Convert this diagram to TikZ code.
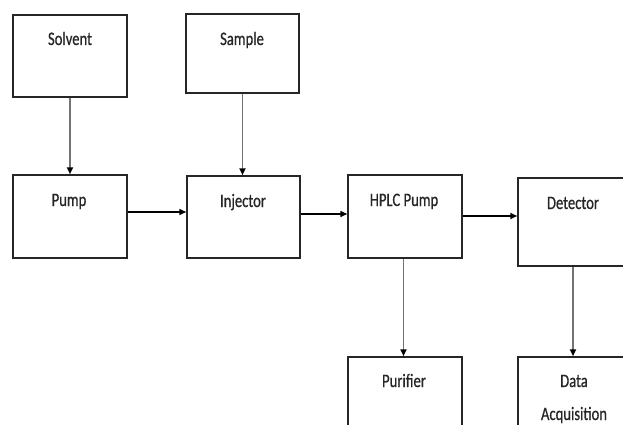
\documentclass[tikz,border=0pt]{standalone}
\usepackage{fontspec}
\setmainfont[FakeStretch=0.77,FakeBold=0.6]{Carlito}
\usetikzlibrary{arrows.meta}
\begin{document}
\begin{tikzpicture}[x=1pt,y=-1pt,
  box/.style={draw=black!85,line width=1.5pt,fill=white,rectangle,inner sep=0pt},
  txt/.style={font=\fontsize{19}{22}\selectfont,text=black!85,inner sep=0pt,anchor=base},
  harr/.style={draw=black,line width=1.5pt,-{Triangle[length=7pt,width=6pt]}},
  varr/.style={draw=black!55,line width=1.8pt,-{Triangle[length=7pt,width=6pt,color=black]}}]
\useasboundingbox (0,0) rectangle (623,425);
\clip (0,0) rectangle (623,425);
\fill[white] (0,0) rectangle (623,425);
% boxes
\node[box,minimum width=114pt,minimum height=82pt] (solvent) at (70,56) {};
\node[box,minimum width=113pt,minimum height=79pt] (sample) at (242.5,53.5) {};
\node[box,minimum width=114pt,minimum height=83pt] (pump) at (70,216.5) {};
\node[box,minimum width=113pt,minimum height=82pt] (injector) at (243.5,217) {};
\node[box,minimum width=114pt,minimum height=83pt] (hplc) at (405,216.5) {};
\node[box,minimum width=114pt,minimum height=88pt] (detector) at (575,222) {};
\node[box,minimum width=114pt,minimum height=83pt] (purifier) at (405,398.5) {};
\node[box,minimum width=114pt,minimum height=83pt] (data) at (575,398.5) {};
% labels
\node[txt] (tsolvent) at (70,45) {Solvent};
\node[txt] (tsample) at (242,45) {Sample};
\node[txt] (tpump) at (69,206) {Pump};
\node[txt] (tinjector) at (243,207) {Injector};
\node[txt] (thplc) at (404,206) {HPLC Pump};
\node[txt] (tdetector) at (573,209) {Detector};
\node[txt] (tpurifier) at (404,387) {Purifier};
\node[txt] (tdata) at (574,387) {Data};
\node[txt] (tacq) at (574,420) {Acquisition};
% connectors
\draw[varr] (solvent.south) -- (solvent.south |- pump.north);
\draw[varr] (sample.south) -- (sample.south |- injector.north);
\draw[harr] ([yshift=4.5pt]pump.east) -- ([yshift=4.5pt]pump.east -| injector.west);
\draw[harr] ([yshift=3pt]injector.east) -- ([yshift=3pt]injector.east -| hplc.west);
\draw[harr] ([yshift=0.5pt]hplc.east) -- ([yshift=0.5pt]hplc.east -| detector.west);
\draw[varr] ([xshift=-1.5pt]hplc.south) -- ([xshift=-1.5pt]hplc.south |- purifier.north);
\draw[varr] ([xshift=-2pt]detector.south) -- ([xshift=-2pt]detector.south |- data.north);
\end{tikzpicture}
\end{document}
